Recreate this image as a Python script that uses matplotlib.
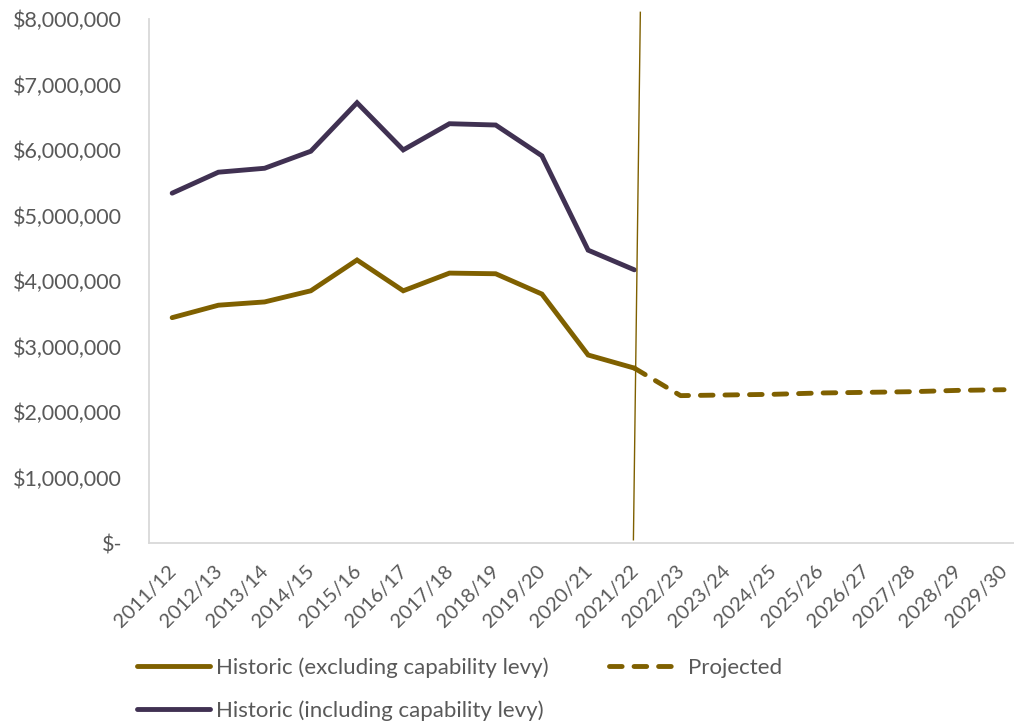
import matplotlib.pyplot as plt
import matplotlib.transforms as mtransforms

### Data ###

years = ["2011/12", "2012/13", "2013/14", "2014/15", "2015/16", "2016/17", "2017/18",
         "2018/19", "2019/20", "2020/21", "2021/22", "2022/23", "2023/24", "2024/25",
         "2025/26", "2026/27", "2027/28", "2028/29", "2029/30"]

# historic values run 2011/12 .. 2021/22
hist_excl = [3440000, 3630000, 3680000, 3850000, 4320000, 3850000, 4120000,
             4110000, 3800000, 2870000, 2670000]
hist_incl = [5340000, 5660000, 5720000, 5980000, 6720000, 6000000, 6400000,
             6380000, 5910000, 4470000, 4170000]
# projected values run 2021/22 .. 2029/30
projected = [2670000, 2250000, 2260000, 2270000, 2290000, 2300000, 2310000,
             2330000, 2340000]

y_ticks = [0, 1000000, 2000000, 3000000, 4000000, 5000000, 6000000, 7000000, 8000000]

gold = "#7F6000"
purple = "#403152"
grey_text = "#595959"

### Plot ###

plt.rcParams['font.family'] = ['Lato', 'DejaVu Sans']

fig = plt.figure(figsize=(10.14, 7.26), dpi=100)
ax = fig.add_axes([0.147, 0.252, 0.866, 0.722])

x_hist = list(range(len(hist_excl)))
x_proj = list(range(len(hist_excl) - 1, len(years)))

l_excl, = ax.plot(x_hist, hist_excl, color=gold, lw=3.5, solid_capstyle='round',
                  solid_joinstyle='miter', label="Historic (excluding capability levy)")
l_incl, = ax.plot(x_hist, hist_incl, color=purple, lw=3.5, solid_capstyle='round',
                  solid_joinstyle='miter', label="Historic (including capability levy)")
l_proj, = ax.plot(x_proj, projected, color=gold, lw=3.5, dashes=(2.6, 2.45),
                  dash_capstyle='round', label="Projected")

# the hand drawn divider between history and projection
ax.plot([10.13, 9.98], [8100000, 50000], color=gold, lw=1.0, clip_on=False)

ax.set_xlim(-0.5, 18.5)
ax.set_ylim(0, 8000000)
ax.set_xticks(range(len(years)))
ax.set_xticklabels(years, rotation=45, ha='right', rotation_mode='anchor', fontsize=14.5)
ax.set_yticks(y_ticks)
ax.set_yticklabels(["$-"] + [f"${v:,.0f}" for v in y_ticks[1:]], fontsize=15.5)

ax.tick_params(axis='both', length=0, labelcolor=grey_text)
ax.tick_params(axis='y', pad=19.5)
ax.tick_params(axis='x', pad=14)

# nudge the year labels a little left, like the original
shift = mtransforms.ScaledTranslation(-5 / 100, 0, fig.dpi_scale_trans)
for lbl in ax.get_xticklabels():
  lbl.set_transform(lbl.get_transform() + shift)

for side in ['top', 'right']:
  ax.spines[side].set_visible(False)
for side in ['left', 'bottom']:
  ax.spines[side].set_color("#D9D9D9")
  ax.spines[side].set_linewidth(1.3)

fig.legend(handles=[l_excl, l_incl, l_proj], ncol=2, frameon=False,
           loc='upper left', bbox_to_anchor=(0.115, 0.122),
           fontsize=16, labelcolor=grey_text, handlelength=3.3,
           handletextpad=0.27, columnspacing=2.7, labelspacing=1.0)

plt.savefig("out.png", dpi=100)
